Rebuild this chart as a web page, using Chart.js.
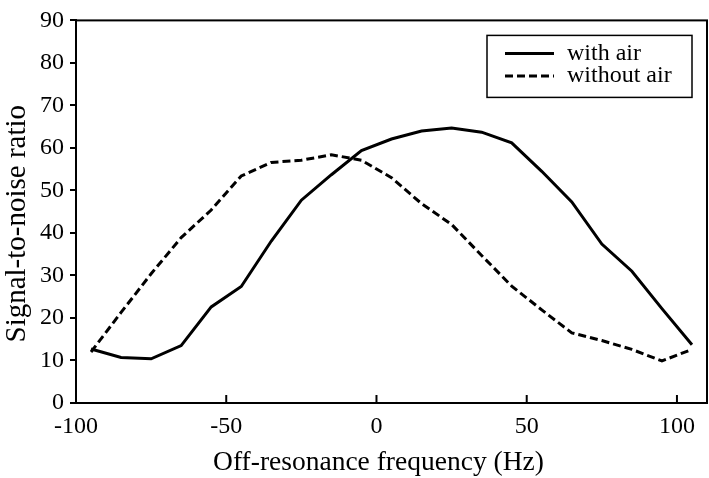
<!DOCTYPE html>
<html>
<head>
<meta charset="utf-8">
<script src="https://cdn.jsdelivr.net/npm/chart.js@4.4.1/dist/chart.umd.min.js"></script>
<style>
  html, body { margin: 0; padding: 0; background: #fff; }
  #wrap { width: 709px; height: 478px; }
</style>
</head>
<body>
<div id="wrap"><canvas id="snrChart" width="709" height="478"></canvas></div>
<script>
const freqs = [-95, -85, -75, -65, -55, -45, -35, -25, -15, -5, 5, 15, 25, 35, 45, 55, 65, 75, 85, 95, 105];
const withAir = [12.7, 10.7, 10.4, 13.5, 22.6, 27.4, 38.1, 47.7, 53.7, 59.4, 62.1, 64.0, 64.7, 63.7, 61.2, 54.5, 47.3, 37.4, 31.0, 22.2, 13.7];
const withoutAir = [12.0, 21.3, 30.4, 38.9, 45.4, 53.4, 56.6, 57.1, 58.4, 57.1, 53.0, 46.9, 42.0, 34.7, 27.5, 21.9, 16.5, 14.7, 12.6, 9.9, 12.6];
const xTicks = [-100, -50, 0, 50, 100];
const seriesLabels = ['with air', 'without air'];
const xTitle = 'Off-resonance frequency (Hz)';
const yTitle = 'Signal-to-noise ratio';

const serif = "'Liberation Serif', 'Times New Roman', serif";
const DASH = [8, 4];

// frame around the plot, inward x ticks, axis titles, boxed legend
const framePlugin = {
  id: 'frame',
  afterDraw(chart) {
    const { ctx, chartArea: a, scales } = chart;
    ctx.save();
    ctx.strokeStyle = '#000';
    ctx.fillStyle = '#000';
    ctx.lineWidth = 2;
    ctx.strokeRect(a.left, a.top, a.right - a.left, a.bottom - a.top);

    xTicks.forEach(v => {
      const x = scales.x.getPixelForValue(v);
      ctx.beginPath();
      ctx.moveTo(x, a.bottom);
      ctx.lineTo(x, a.bottom - 8);
      ctx.stroke();
    });

    // axis titles
    ctx.textAlign = 'center';
    ctx.textBaseline = 'middle';
    ctx.font = '27.5px ' + serif;
    ctx.fillText(xTitle, scales.x.getPixelForValue(0) + 2, a.bottom + 60);
    ctx.save();
    ctx.translate(17, (a.top + a.bottom) / 2 + 12);
    ctx.rotate(-Math.PI / 2);
    ctx.font = '29px ' + serif;
    ctx.fillText(yTitle, 0, 0);
    ctx.restore();

    // legend
    const bx = a.right - 220, by = a.top + 15, bw = 205, bh = 62;
    ctx.lineWidth = 1.5;
    ctx.strokeRect(bx, by, bw, bh);
    ctx.font = '24px ' + serif;
    ctx.textAlign = 'left';
    chart.data.datasets.forEach((ds, i) => {
      const y = by + 18 + i * 22.5;
      ctx.beginPath();
      ctx.lineWidth = 3;
      ctx.setLineDash(ds.borderDash || []);
      ctx.moveTo(bx + 18, y);
      ctx.lineTo(bx + 67, y);
      ctx.stroke();
      ctx.setLineDash([]);
      ctx.fillText(ds.label, bx + 80, y);
    });
    ctx.restore();
  }
};

new Chart(document.getElementById('snrChart').getContext('2d'), {
  type: 'line',
  data: {
    labels: freqs,
    datasets: [
      {
        label: seriesLabels[0],
        data: freqs.map((f, i) => ({ x: f, y: withAir[i] })),
        borderColor: '#000',
        borderWidth: 3,
        pointRadius: 0,
        tension: 0,
      },
      {
        label: seriesLabels[1],
        data: freqs.map((f, i) => ({ x: f, y: withoutAir[i] })),
        borderColor: '#000',
        borderWidth: 3,
        borderDash: DASH,
        pointRadius: 0,
        tension: 0,
      },
    ],
  },
  options: {
    responsive: false,
    animation: false,
    layout: { padding: { top: 7, right: 2, left: 0, bottom: 0 } },
    plugins: {
      legend: { display: false },
      tooltip: { enabled: false },
    },
    scales: {
      x: {
        type: 'linear',
        min: -100,
        max: 110,
        afterBuildTicks: s => { s.ticks = xTicks.map(v => ({ value: v })); },
        afterFit: s => { s.height = 75; },
        ticks: { color: '#000', font: { family: serif, size: 24 }, padding: 9, maxRotation: 0 },
        grid: { display: false, drawTicks: false },
        border: { display: true, color: '#000', width: 2 },
      },
      y: {
        min: 0,
        max: 90,
        afterFit: s => { s.width = 76; },
        ticks: { stepSize: 10, color: '#000', font: { family: serif, size: 24 }, padding: 6 },
        grid: { drawOnChartArea: false, drawTicks: true, tickLength: 6, color: '#000', lineWidth: 2 },
        border: { display: true, color: '#000', width: 2 },
      },
    },
  },
  plugins: [framePlugin],
});
</script>
</body>
</html>
